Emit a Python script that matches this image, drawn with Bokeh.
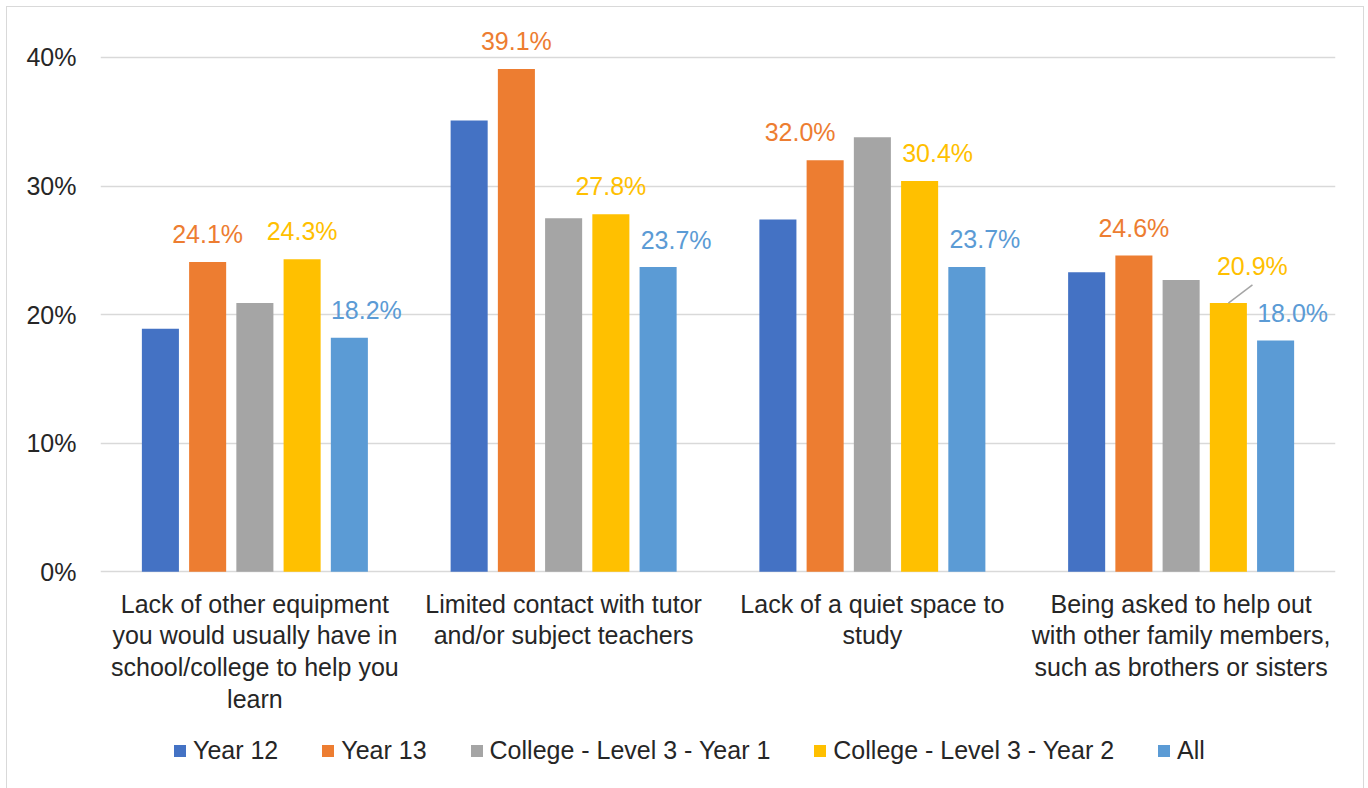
from bokeh.plotting import figure
from bokeh.models import (ColumnDataSource, FactorRange, Range1d, FixedTicker,
                          NumeralTickFormatter, Legend, LegendItem)
from bokeh.transform import dodge
from bokeh.core.properties import value
from bokeh.embed import file_html
from bokeh.resources import INLINE

# ---------------- data ----------------
categories = [
    "Lack of other equipment\nyou would usually have in\nschool/college to help you\nlearn",
    "Limited contact with tutor\nand/or subject teachers",
    "Lack of a quiet space to\nstudy",
    "Being asked to help out\nwith other family members,\nsuch as brothers or sisters",
]
series_names = ["Year 12", "Year 13", "College - Level 3 - Year 1",
                "College - Level 3 - Year 2", "All"]
year12 = [0.189, 0.351, 0.274, 0.233]
year13 = [0.241, 0.391, 0.320, 0.246]
college_y1 = [0.209, 0.275, 0.338, 0.227]
college_y2 = [0.243, 0.278, 0.304, 0.209]
all_students = [0.182, 0.237, 0.237, 0.180]
series_values = [year12, year13, college_y1, college_y2, all_students]
y_ticks = [0.0, 0.1, 0.2, 0.3, 0.4]

# which series carry data labels (Year 13, College Y2, All)
labelled = [False, True, False, True, True]

# ---------------- styles ----------------
colors = ["#4472C4", "#ED7D31", "#A5A5A5", "#FFC000", "#5B9BD5"]
offsets = [-0.306, -0.153, 0.0, 0.153, 0.306]
BAR_W = 0.12
FONT = "Liberation Sans"
TXT = "#262626"
# per-point label offsets in screen px (x_offset, y_offset)
label_dx = {1: [0, 0, -25, 0], 3: [0, 0, 18, 24], 4: [17, 18, 18, 17]}
label_dy = {1: [-28, -28, -28, -28], 3: [-28, -28, -28, -37], 4: [-28, -27, -28, -27]}
LEADER_DX = 0.078   # category units
LEADER_DY = 0.0142  # data units
Y_START, Y_END = -0.1685, 0.4241   # extra room below zero holds labels + legend

p = figure(x_range=FactorRange(*categories, range_padding=0),
           y_range=Range1d(Y_START, Y_END),
           width=1356, height=781, output_backend="svg", toolbar_location=None,
           min_border_left=93, min_border_right=28, min_border_top=19,
           min_border_bottom=0)
p.outline_line_color = None
p.background_fill_color = "white"
p.border_fill_color = "white"
p.styles = {"position": "relative", "left": "7px", "top": "7px",
            "outline": "1.5px solid #d9d9d9", "outline-offset": "0px"}

renderers = []
for i, (name, vals) in enumerate(zip(series_names, series_values)):
    src = ColumnDataSource(dict(cat=categories, val=vals,
                                lab=[f"{v*100:.1f}%" for v in vals]))
    r = p.vbar(x=dodge("cat", offsets[i], range=p.x_range), top="val", bottom=0,
               width=BAR_W, source=src, fill_color=colors[i], line_color=None)
    renderers.append((name, r))
    if labelled[i]:
        src.data["dx"] = label_dx[i]
        src.data["dy"] = label_dy[i]
        p.text(x=dodge("cat", offsets[i], range=p.x_range), y="val", text="lab",
               x_offset="dx", y_offset="dy", source=src,
               text_color=colors[i], text_font=value(FONT),
               text_font_size="25px", text_align="center", text_baseline="middle")

# leader line for the College Y2 label in the last group
k = 3
lsrc = ColumnDataSource(dict(cat=[categories[k]],
                             y0=[college_y2[k]], y1=[college_y2[k] + LEADER_DY]))
p.segment(x0=dodge("cat", offsets[3], range=p.x_range), y0="y0",
          x1=dodge("cat", offsets[3] + LEADER_DX, range=p.x_range), y1="y1",
          source=lsrc, line_color="#A5A5A5", line_width=1.5)

# category labels under the baseline
csrc = ColumnDataSource(dict(cat=categories, base=[0] * len(categories)))
p.text(x="cat", y="base", text="cat", source=csrc, y_offset=18,
       text_color=TXT, text_font=value(FONT), text_font_size="25px",
       text_align="center", text_baseline="top", text_line_height=1.13)

# axes
p.yaxis.ticker = FixedTicker(ticks=y_ticks)
p.yaxis.formatter = NumeralTickFormatter(format="0%")
p.yaxis.axis_line_color = None
p.yaxis.major_tick_line_color = None
p.yaxis.minor_tick_line_color = None
p.yaxis.major_label_standoff = 18
p.yaxis.major_label_text_font = FONT
p.yaxis.major_label_text_font_size = "25px"
p.yaxis.major_label_text_color = TXT
p.xaxis.visible = False

p.xgrid.grid_line_color = None
p.ygrid.ticker = FixedTicker(ticks=y_ticks)
p.ygrid.grid_line_color = "#d9d9d9"
p.ygrid.grid_line_width = 1.5

legend = Legend(items=[LegendItem(label=n, renderers=[r]) for n, r in renderers],
                orientation="horizontal", location=(72, 23),
                glyph_width=15, glyph_height=15, label_standoff=6, spacing=42,
                padding=0, margin=0, border_line_color=None,
                background_fill_alpha=0,
                label_text_font=FONT, label_text_font_size="25px",
                label_text_color=TXT, label_height=25)
p.add_layout(legend)

open("out.html", "w").write(file_html(p, INLINE))
